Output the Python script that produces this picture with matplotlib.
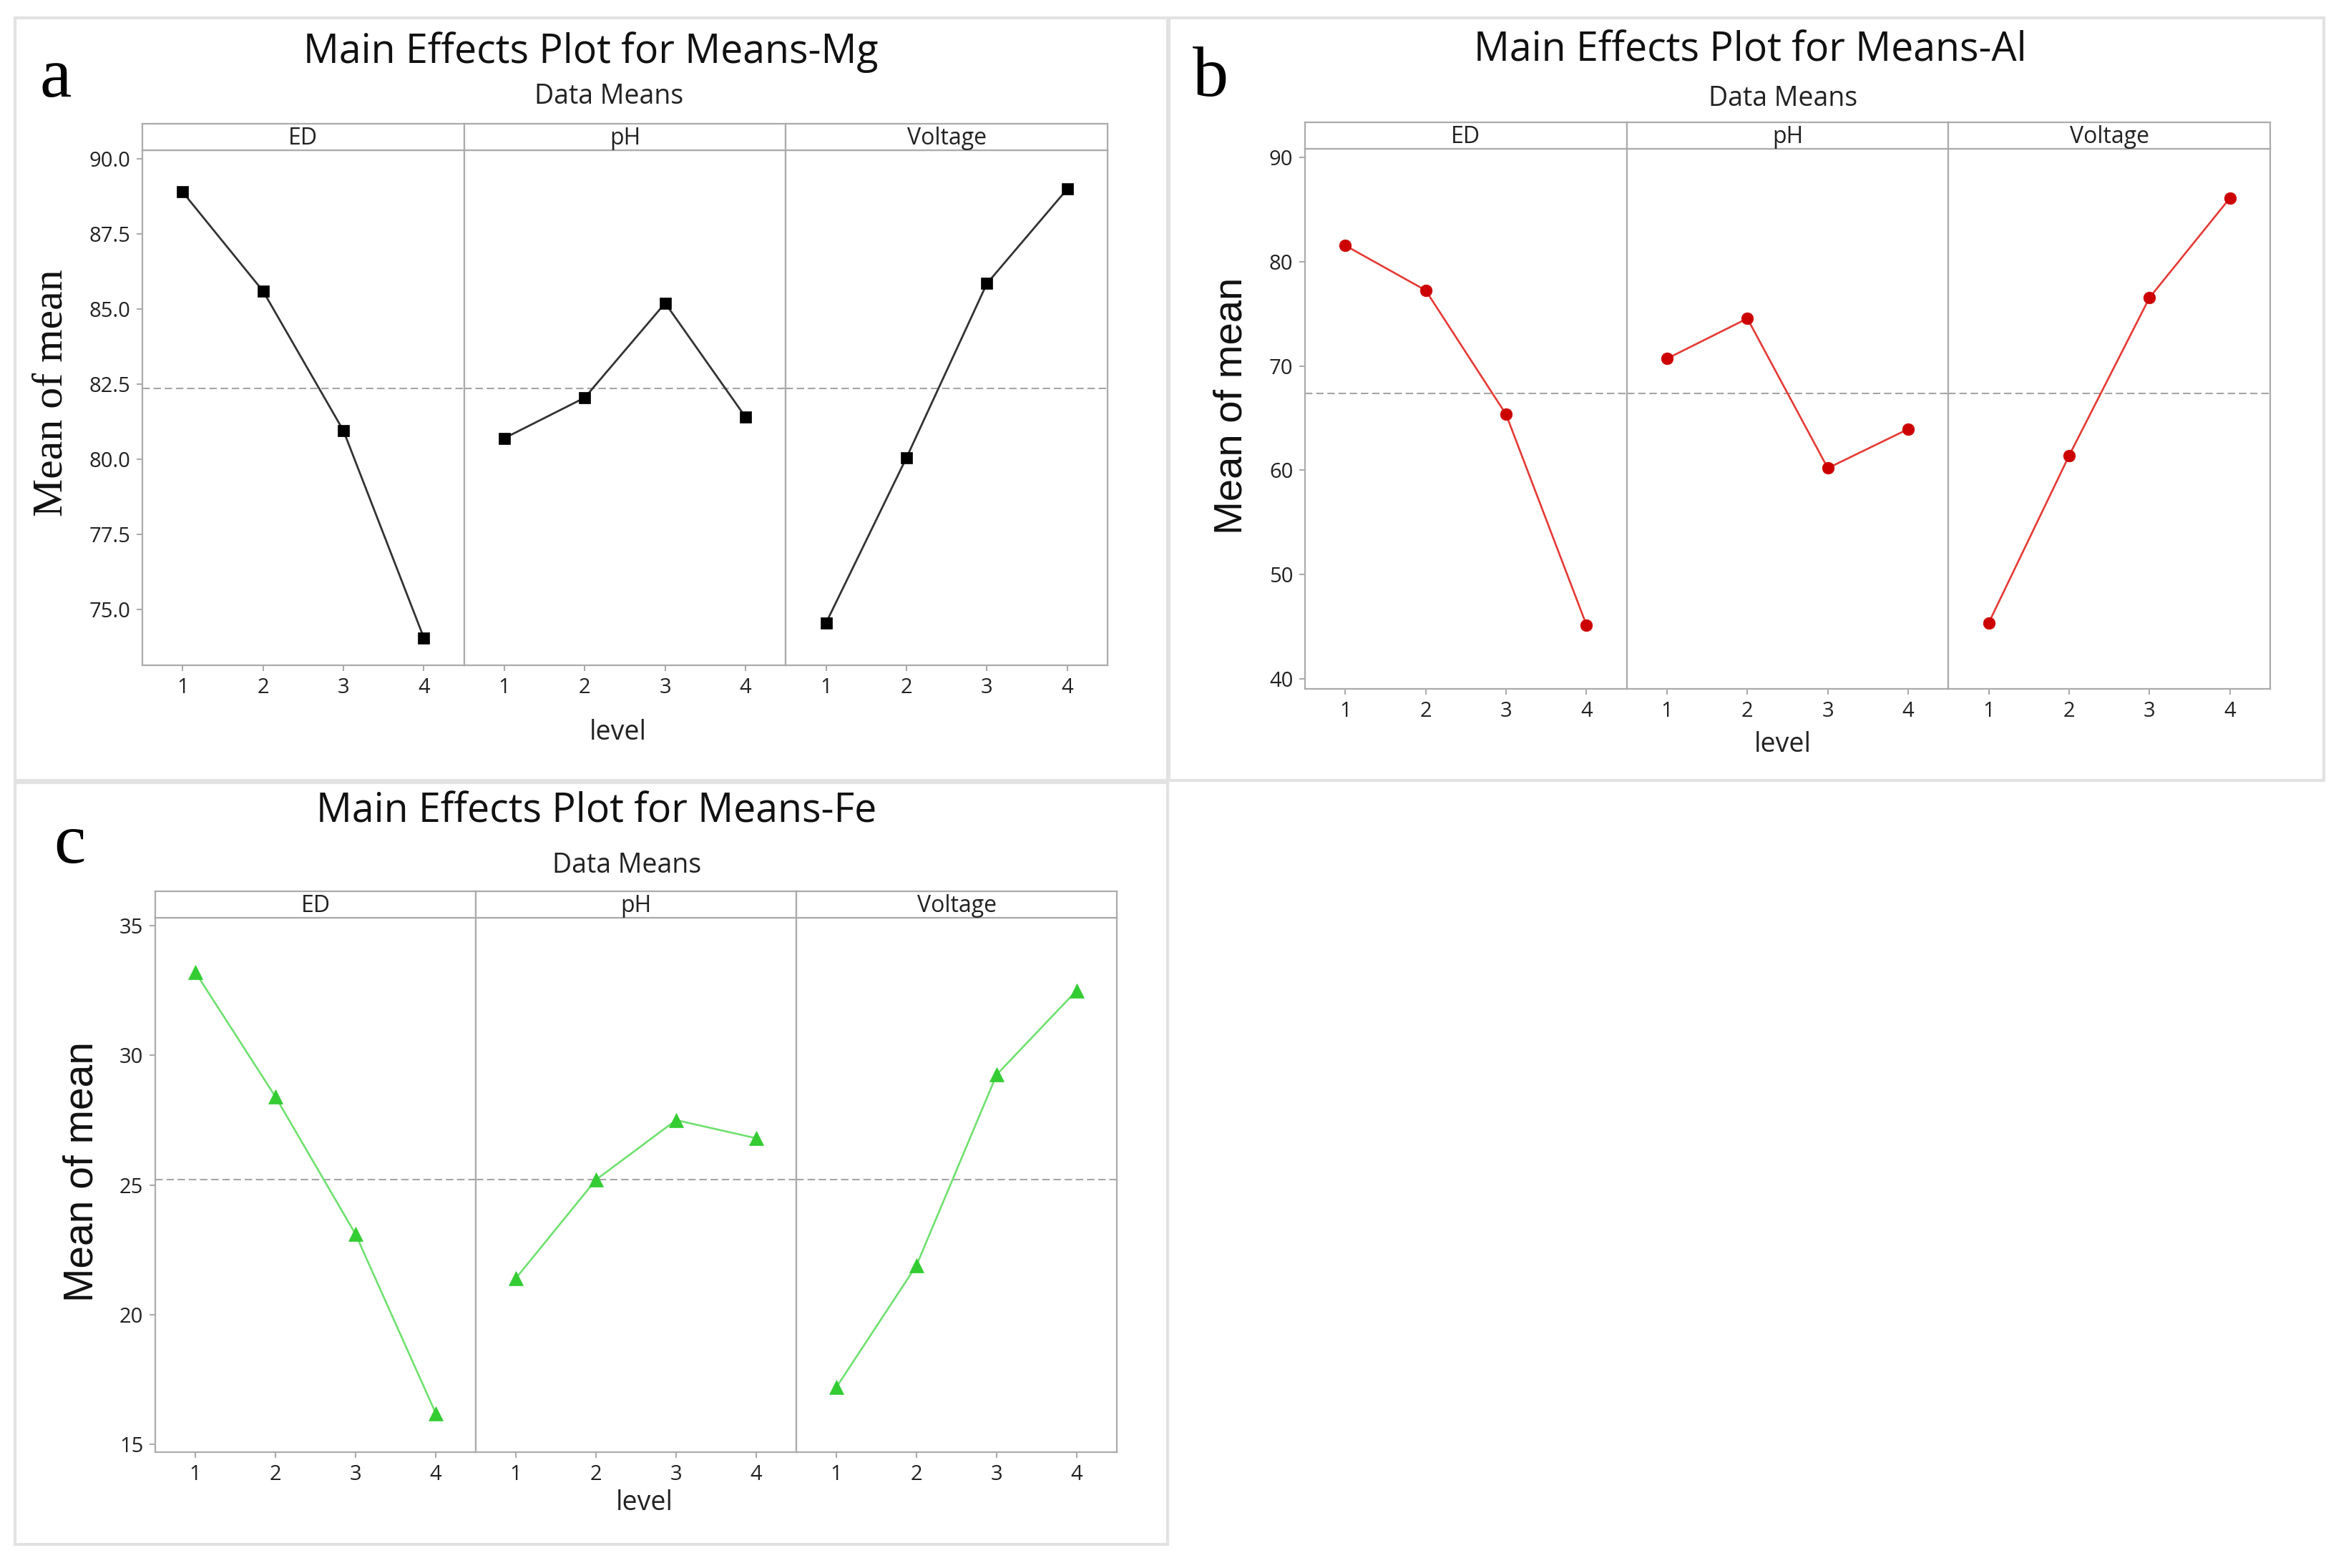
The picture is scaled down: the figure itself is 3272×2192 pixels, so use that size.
import matplotlib
matplotlib.use("Agg")
import matplotlib.pyplot as plt
from matplotlib.patches import Rectangle

W, H = 3272, 2192

LEVELS = [1, 2, 3, 4]
FACTORS = ["ED", "pH", "Voltage"]

MG_ED = [88.9, 85.6, 80.95, 74.05]
MG_PH = [80.7, 82.05, 85.2, 81.4]
MG_VOLT = [74.55, 80.05, 85.85, 89.0]
MG_MEAN = 82.35
MG_TICKS = [75.0, 77.5, 80.0, 82.5, 85.0, 87.5, 90.0]

AL_ED = [81.55, 77.25, 65.35, 45.15]
AL_PH = [70.7, 74.55, 60.2, 63.95]
AL_VOLT = [45.35, 61.4, 76.55, 86.1]
AL_MEAN = 67.35
AL_TICKS = [40, 50, 60, 70, 80, 90]

FE_ED = [33.2, 28.4, 23.1, 16.2]
FE_PH = [21.4, 25.2, 27.5, 26.8]
FE_VOLT = [17.2, 21.9, 29.25, 32.5]
FE_MEAN = 25.2
FE_TICKS = [15, 20, 25, 30, 35]

SANS = ["Open Sans", "DejaVu Sans"]
SERIF = ["Liberation Serif", "DejaVu Serif"]
ARIAL = ["Liberation Sans", "DejaVu Sans"]

plt.rcParams["font.family"] = SANS

AX_GREY = "#ababab"
FRAME_GREY = "#e2e2e2"
STRIP_H = 37


def fx(x):
    return x / W


def fy(y):
    return 1 - y / H


def axes_px(fig, left, top, right, bottom):
    return fig.add_axes([left / W, 1 - bottom / H, (right - left) / W, (bottom - top) / H])


def style_spines(ax):
    for sp in ax.spines.values():
        sp.set_color(AX_GREY)
        sp.set_linewidth(1.6)


def draw_panel(fig, p):
    fl, ft, fr, fb = p["frame"]
    fig.patches.append(Rectangle((fx(fl), fy(fb)), (fr - fl) / W, (fb - ft) / H,
                                 transform=fig.transFigure, fill=False,
                                 edgecolor=FRAME_GREY, linewidth=3))
    left, top, right, bottom = p["axes"]
    fw = (right - left) / 3
    for k, (name, vals) in enumerate(zip(FACTORS, p["series"])):
        l = left + k * fw
        ax = axes_px(fig, l, top + STRIP_H, l + fw, bottom)
        ax.axhline(p["mean"], color="#a5a5a5", lw=1.5, ls=(0, (5, 2.5)), zorder=1)
        ax.plot(LEVELS, vals, color=p["line"], lw=p["lw"], marker=p["marker"],
                markersize=p["ms"], markerfacecolor=p["mcolor"],
                markeredgecolor=p["mcolor"], markeredgewidth=0.5, zorder=3)
        ax.set_xlim(0.5, 4.5)
        ax.set_ylim(*p["ylim"])
        ax.set_xticks(LEVELS)
        ax.set_yticks(p["ticks"])
        ax.set_yticklabels([p["fmt"].format(t) for t in p["ticks"]])
        style_spines(ax)
        ax.tick_params(axis="both", direction="out", length=6, width=1.5,
                       color=AX_GREY, labelsize=21, labelcolor="#222222", pad=6)
        if k > 0:
            ax.tick_params(axis="y", left=False, labelleft=False)

        sax = axes_px(fig, l, top, l + fw, top + STRIP_H)
        sax.set_xticks([])
        sax.set_yticks([])
        style_spines(sax)
        sax.text(0.5, 0.45, name, ha="center", va="center", fontsize=23,
                 color="#222222", transform=sax.transAxes)

    tx, ty = p["title_xy"]
    fig.text(fx(tx), fy(ty), p["title"], ha="center", va="center", fontsize=40, color="#111111")
    sx, sy = p["sub_xy"]
    fig.text(fx(sx), fy(sy), "Data Means", ha="center", va="center", fontsize=27, color="#222222")
    lx, ly = p["level_xy"]
    fig.text(fx(lx), fy(ly), "level", ha="center", va="center", fontsize=27, color="#222222")
    yx, yy = p["ylab_xy"]
    fig.text(fx(yx), fy(yy), "Mean of mean", ha="center", va="center", rotation=90,
             fontsize=p["ylab_size"], family=p["ylab_font"], color="#111111")
    cx, cy = p["letter_xy"]
    fig.text(fx(cx), fy(cy), p["letter"], ha="left", va="baseline", fontsize=72,
             family=SERIF, color="black")


fig = plt.figure(figsize=(W / 100, H / 100), dpi=100)

panels = [
    dict(frame=(21, 25, 1632, 1091), axes=(199, 173, 1548, 930),
         series=[MG_ED, MG_PH, MG_VOLT], mean=MG_MEAN, ylim=(73.14, 90.29),
         ticks=MG_TICKS, fmt="{:.1f}", line="#333333", lw=2.0, marker="s",
         ms=12, mcolor="black", title="Main Effects Plot for Means-Mg",
         title_xy=(826, 73), sub_xy=(851, 135), level_xy=(864, 1024),
         ylab_xy=(73, 549), ylab_size=43, ylab_font=SERIF,
         letter="a", letter_xy=(55, 135)),
    dict(frame=(1634, 25, 3248, 1091), axes=(1824, 171, 3173, 963),
         series=[AL_ED, AL_PH, AL_VOLT], mean=AL_MEAN, ylim=(39.04, 90.82),
         ticks=AL_TICKS, fmt="{:d}", line="#e53935", lw=1.9, marker="o",
         ms=12, mcolor="#cc0000", title="Main Effects Plot for Means-Al",
         title_xy=(2446, 71), sub_xy=(2492, 138), level_xy=(2492, 1041),
         ylab_xy=(1722, 567), ylab_size=40.5, ylab_font=ARIAL,
         letter="b", letter_xy=(1667, 134)),
    dict(frame=(21, 1094, 1632, 2159), axes=(217, 1246, 1561, 2030),
         series=[FE_ED, FE_PH, FE_VOLT], mean=FE_MEAN, ylim=(14.7, 35.3),
         ticks=FE_TICKS, fmt="{:d}", line="#6fe06f", lw=1.9, marker="^",
         ms=14, mcolor="#33cc33", title="Main Effects Plot for Means-Fe",
         title_xy=(834, 1135), sub_xy=(876, 1210), level_xy=(901, 2101),
         ylab_xy=(115, 1638), ylab_size=41, ylab_font=ARIAL,
         letter="c", letter_xy=(75, 1206)),
]

for p in panels:
    draw_panel(fig, p)

fig.savefig("out.png", dpi=100)
